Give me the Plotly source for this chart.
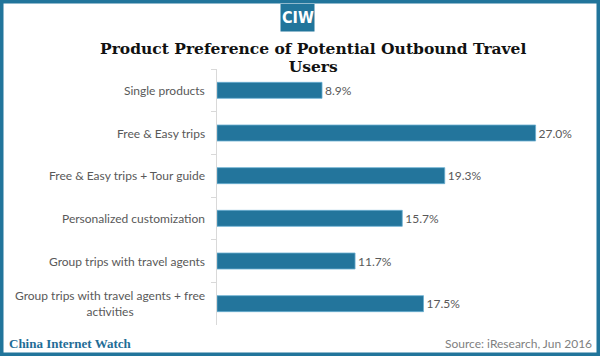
import plotly.graph_objects as go

categories = [
    "Single products",
    "Free & Easy trips",
    "Free & Easy trips + Tour guide",
    "Personalized customization",
    "Group trips with travel agents",
    "Group trips with travel agents + free<br>activities",
]
values = [8.9, 27.0, 19.3, 15.7, 11.7, 17.5]
value_labels = ["8.9%", "27.0%", "19.3%", "15.7%", "11.7%", "17.5%"]

title_lines = ["Product Preference of Potential Outbound Travel", "Users"]
logo_text = "CIW"
footer_left = "China Internet Watch"
footer_right = "Source: iResearch, Jun 2016"

W, H = 600, 356
ML, MR, MT, MB = 217, 47, 69, 31
PW, PH = W - ML - MR, H - MT - MB

def px(x):
    return (x - ML) / PW

def py(y):
    return (H - MB - y) / PH

BLUE = "#21759b"
GREY = "#595959"
LABEL_FONT = "Lato, 'Open Sans', sans-serif"
TITLE_PX = 15.5

fig = go.Figure()
fig.add_trace(go.Bar(
    y=categories,
    x=values,
    orientation="h",
    width=0.375,
    marker=dict(color="#23759c", line=dict(color="#6aaed0", width=0.8)),
    text=value_labels,
    textposition="outside",
    cliponaxis=False,
    textfont=dict(family=LABEL_FONT, size=12, color=GREY),
    hoverinfo="skip",
))

annotations = []
for c in categories:
    annotations.append(dict(
        x=0, xref="paper", y=c, yref="y", text=c, showarrow=False,
        xanchor="right", yanchor="middle", xshift=-10, align="center",
        font=dict(family=LABEL_FONT, size=12, color=GREY),
    ))

title_html = "<br>".join(
    "<span style='font-size:%gpx'><b>%s</b></span>" % (TITLE_PX, t) for t in title_lines
)
annotations.append(dict(
    x=px(312.5), y=py(57), xref="paper", yref="paper", text=title_html,
    showarrow=False, xanchor="center", yanchor="middle", align="center",
    font=dict(family="'DejaVu Serif', serif", size=13.6, color="#111111"),
))
annotations.append(dict(
    x=px(297.5), y=py(17.5), xref="paper", yref="paper", text="<b>" + logo_text + "</b>",
    showarrow=False, xanchor="center", yanchor="middle",
    font=dict(family="'Liberation Sans Narrow', 'DejaVu Sans Condensed', sans-serif", size=16, color="white"),
))
annotations.append(dict(
    x=px(7), y=py(343), xref="paper", yref="paper", text="<b>" + footer_left + "</b>",
    showarrow=False, xanchor="left", yanchor="middle",
    font=dict(family="'Liberation Serif', serif", size=13, color="#1f6d97"),
))
annotations.append(dict(
    x=px(594), y=py(343), xref="paper", yref="paper", text=footer_right,
    showarrow=False, xanchor="right", yanchor="middle",
    font=dict(family=LABEL_FONT, size=12, color="#7f7f7f"),
))

shapes = [
    dict(type="rect", xref="paper", yref="paper",
         x0=px(1.75), x1=px(598.25), y0=py(1.75), y1=py(354.25),
         line=dict(color=BLUE, width=3.5), fillcolor="rgba(0,0,0,0)", layer="below"),
    dict(type="rect", xref="paper", yref="paper",
         x0=px(280.5), x1=px(314.5), y0=py(4), y1=py(31.5),
         line=dict(width=0), fillcolor=BLUE, layer="below"),
]

fig.update_layout(
    width=W, height=H,
    margin=dict(l=ML, r=MR, t=MT, b=MB),
    paper_bgcolor="white", plot_bgcolor="rgba(0,0,0,0)",
    showlegend=False,
    xaxis=dict(range=[0, PW / 11.8], visible=False, fixedrange=True),
    yaxis=dict(
        autorange="reversed", showticklabels=False, showgrid=False,
        showline=True, linecolor="#d9d9d9", linewidth=1,
        ticks="outside", ticklen=5, tickcolor="#d9d9d9", tickson="boundaries",
        zeroline=False, fixedrange=True,
    ),
    annotations=annotations,
    shapes=shapes,
)

fig.write_html(
    "out.html",
    config={"displayModeBar": False, "staticPlot": True},
    post_script="document.body.style.margin='0';document.body.style.overflow='hidden';",
)
